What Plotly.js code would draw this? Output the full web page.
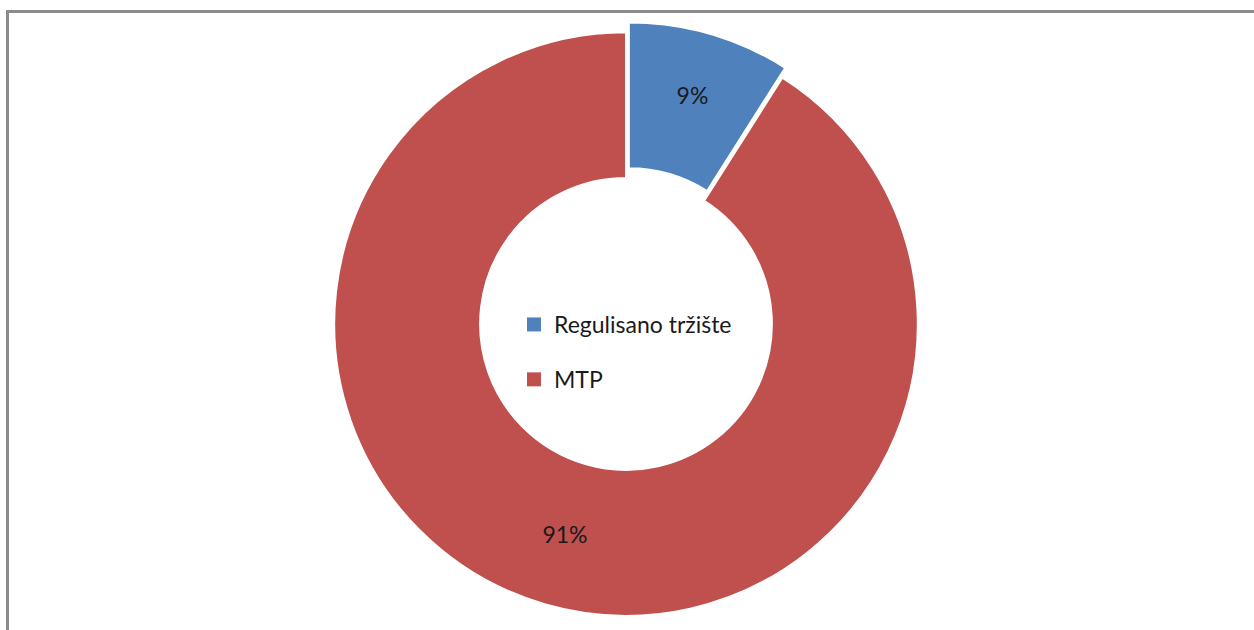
<!DOCTYPE html>
<html>
<head>
<meta charset="utf-8">
<script src="https://cdn.plot.ly/plotly-3.0.1.min.js"></script>
<style>
html,body{margin:0;padding:0;background:#fff;}
#chart{width:1254px;height:630px;}
</style>
</head>
<body>
<div id="chart"></div>
<script>
var categories = ["Regulisano tržište", "MTP"];
var values = [9, 91];
var colors = ["#4f81bd", "#c0504d"];
var pulls = [0.035, 0];

var W = 1254, H = 630;
var cx = 626, cy = 324, half = 302;

var pieTrace = {
  type: "pie",
  labels: categories,
  values: values,
  sort: false,
  direction: "clockwise",
  rotation: 0,
  hole: 0.5,
  pull: pulls,
  marker: {colors: colors, line: {color: "#ffffff", width: 2}},
  textinfo: "percent",
  textposition: "inside",
  insidetextorientation: "horizontal",
  textfont: {family: "Lato, sans-serif", size: 23, color: "#1a1a1a"},
  showlegend: false,
  hoverinfo: "label+percent",
  domain: {
    x: [(cx - half) / W, (cx + half) / W],
    y: [(H - (cy + half)) / H, (H - (cy - half)) / H]
  }
};

var legendTraces = categories.map(function (c, i) {
  return {
    type: "scatter",
    mode: "markers",
    x: [null],
    y: [null],
    name: c,
    legendgroup: "g" + i,
    marker: {symbol: "square", size: 14, color: colors[i]},
    showlegend: true,
    hoverinfo: "skip"
  };
});

var layout = {
  width: W,
  height: H,
  margin: {l: 0, r: 0, t: 0, b: 0},
  paper_bgcolor: "#ffffff",
  plot_bgcolor: "rgba(0,0,0,0)",
  xaxis: {visible: false},
  yaxis: {visible: false},
  showlegend: true,
  legend: {
    x: 514 / W,
    xanchor: "left",
    y: 1 - 303 / H,
    yanchor: "top",
    bgcolor: "rgba(0,0,0,0)",
    tracegroupgap: 22,
    itemwidth: 30,
    font: {family: "Lato, sans-serif", size: 23, color: "#1a1a1a"}
  },
  shapes: [{
    type: "rect",
    xref: "paper", yref: "paper",
    x0: 7.5 / W, x1: 1.05,
    y0: -0.05, y1: 1 - 11.5 / H,
    line: {color: "#8c8c8c", width: 3},
    fillcolor: "rgba(0,0,0,0)"
  }]
};

Plotly.newPlot("chart", [pieTrace].concat(legendTraces), layout, {displayModeBar: false, staticPlot: true});
</script>
</body>
</html>
